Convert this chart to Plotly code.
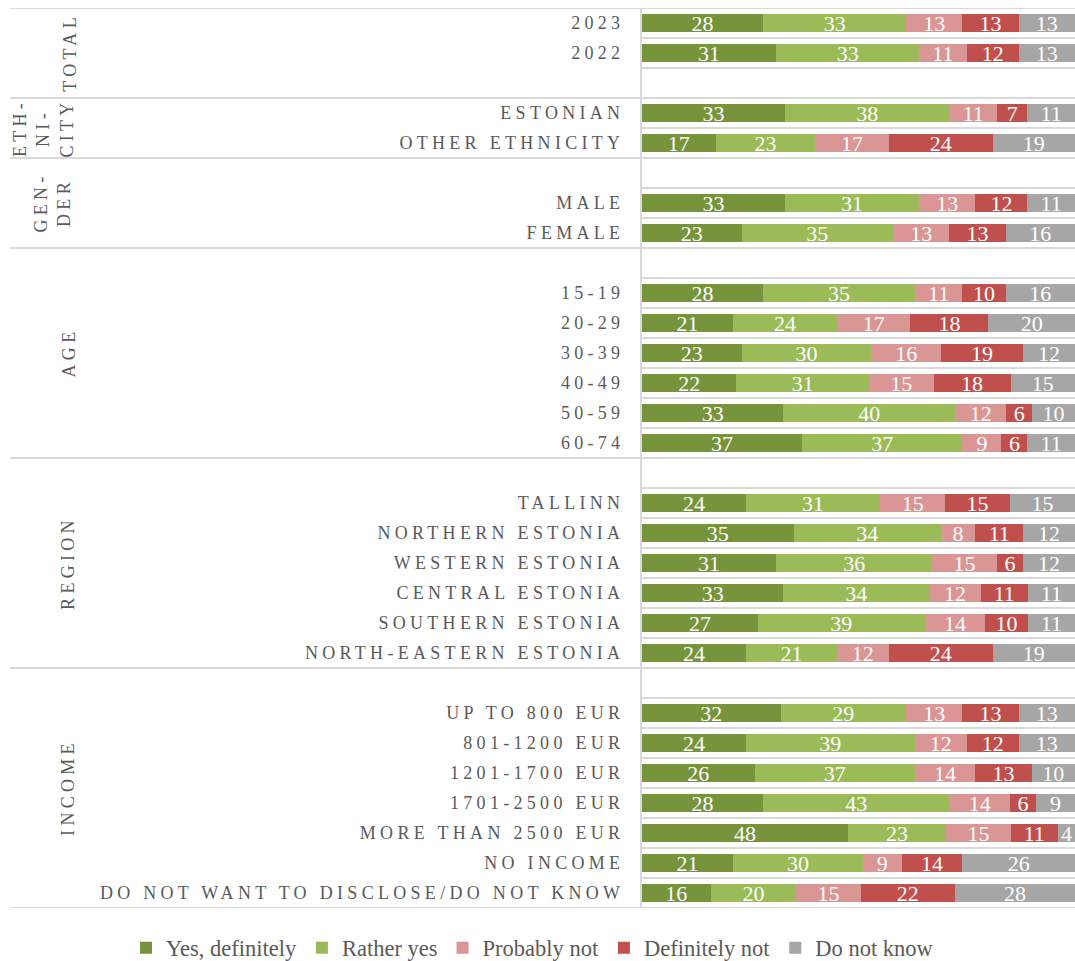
import plotly.graph_objects as go

# ---------------- data ----------------
series = ["Yes, definitely", "Rather yes", "Probably not", "Definitely not", "Do not know"]
colors = ["#77933C", "#9BBB59", "#DA9694", "#C0504D", "#A6A6A6"]

groups = ["TOTAL", "ETH-<br>NI-<br>CITY", "GEN-<br>DER", "AGE", "REGION", "INCOME"]
group_categories = [
    ["2023", "2022"],
    ["ESTONIAN", "OTHER ETHNICITY"],
    ["MALE", "FEMALE"],
    ["15-19", "20-29", "30-39", "40-49", "50-59", "60-74"],
    ["TALLINN", "NORTHERN ESTONIA", "WESTERN ESTONIA", "CENTRAL ESTONIA",
     "SOUTHERN ESTONIA", "NORTH-EASTERN ESTONIA"],
    ["UP TO 800 EUR", "801-1200 EUR", "1201-1700 EUR", "1701-2500 EUR",
     "MORE THAN 2500 EUR", "NO INCOME", "DO NOT WANT TO DISCLOSE/DO NOT KNOW"],
]
# blank spacer row: after first group, before the others
spacer_before = [False, False, True, True, True, True]
spacer_after = [True, False, False, False, False, False]

yes_definitely = [28, 31, 33, 17, 33, 23, 28, 21, 23, 22, 33, 37,
                  24, 35, 31, 33, 27, 24, 32, 24, 26, 28, 48, 21, 16]
rather_yes = [33, 33, 38, 23, 31, 35, 35, 24, 30, 31, 40, 37,
              31, 34, 36, 34, 39, 21, 29, 39, 37, 43, 23, 30, 20]
probably_not = [13, 11, 11, 17, 13, 13, 11, 17, 16, 15, 12, 9,
                15, 8, 15, 12, 14, 12, 13, 12, 14, 14, 15, 9, 15]
definitely_not = [13, 12, 7, 24, 12, 13, 10, 18, 19, 18, 6, 6,
                  15, 11, 6, 11, 10, 24, 13, 12, 13, 6, 11, 14, 22]
do_not_know = [13, 13, 11, 19, 11, 16, 16, 20, 12, 15, 10, 11,
               15, 12, 12, 11, 11, 19, 13, 13, 10, 9, 4, 26, 28]
values = [yes_definitely, rather_yes, probably_not, definitely_not, do_not_know]

# ---------------- row layout ----------------
cat_pos = []
tick_vals, tick_text = [], []
group_bounds = []
row = 0
for g, cats in enumerate(group_categories):
    start = row
    if spacer_before[g]:
        row += 1
    for c in cats:
        cat_pos.append(row)
        tick_vals.append(row)
        tick_text.append(c)
        row += 1
    if spacer_after[g]:
        row += 1
    group_bounds.append((start - 0.5, row - 0.5))
n_rows = row

W, H = 1075, 961
L, R, T, B = 642, 0, 8, 53
pw = W - L - R
ph = H - T - B


def px_to_paper(px):
    return (px - L) / pw


def py_to_paper(py):
    return (H - B - py) / ph


fig = go.Figure()
for name, col, vals in zip(series, colors, values):
    fig.add_trace(go.Bar(
        name=name, orientation="h", x=vals, y=cat_pos,
        marker=dict(color=col, line=dict(width=0)),
        text=[str(v) for v in vals], textposition="inside", textangle=0,
        insidetextanchor="middle", constraintext="none",
        textfont=dict(family="Liberation Serif", size=22, color="white"),
        cliponaxis=False, hoverinfo="x+y+name",
    ))

shapes = []
for (y0, y1) in group_bounds:
    for yy in (y0, y1):
        shapes.append(dict(type="line", xref="paper", yref="y",
                           x0=px_to_paper(10), x1=1, y0=yy, y1=yy,
                           line=dict(color="#D9D9D9", width=2), layer="above"))

annotations = []
label_x = [70, 43, 52, 69, 68, 68]
for g, text in enumerate(groups):
    y0, y1 = group_bounds[g]
    annotations.append(dict(
        text=text, xref="paper", yref="y", x=px_to_paper(label_x[g]),
        y=(y0 + y1) / 2, textangle=-90, showarrow=False,
        xanchor="center", yanchor="middle", align="center",
        font=dict(family="Liberation Serif", size=18, color="#595959"),
    ))

fig.update_layout(
    width=W, height=H,
    margin=dict(l=L, r=R, t=T, b=B, pad=0, autoexpand=False),
    plot_bgcolor="white", paper_bgcolor="white",
    barmode="stack", barnorm="percent", bargap=0.43,
    showlegend=True,
    legend=dict(orientation="h", xref="paper", yref="paper",
                x=px_to_paper(126), y=py_to_paper(948), xanchor="left", yanchor="middle",
                font=dict(family="Liberation Serif", size=22.5, color="#595959"),
                itemwidth=30, traceorder="normal", bgcolor="rgba(0,0,0,0)"),
    uniformtext=dict(minsize=22, mode="show"),
    shapes=shapes, annotations=annotations,
    xaxis=dict(range=[0, 100], showgrid=False, showticklabels=False,
               zeroline=False, showline=False, fixedrange=True),
    yaxis=dict(range=[n_rows - 0.5, -0.5], tickvals=tick_vals, ticktext=tick_text,
               showgrid=False, zeroline=False, showline=True, automargin=False,
               linecolor="#D9D9D9", linewidth=2, ticks="", ticklabelstandoff=12,
               tickfont=dict(family="Liberation Serif", size=18, color="#595959"),
               minor=dict(tickvals=[k + 0.5 for k in range(-1, n_rows)], showgrid=True,
                          gridcolor="#D9D9D9", gridwidth=2, ticks=""),
               fixedrange=True),
)

post = """
document.body.style.margin = '0';
document.body.style.overflow = 'hidden';
var gd = document.getElementById('{plot_id}');
function sp(){
  gd.querySelectorAll('.ytick text').forEach(function(t){ t.setAttribute('letter-spacing','4.3px'); });
  gd.querySelectorAll('.annotation-text').forEach(function(t){ t.setAttribute('letter-spacing','4.3px'); });
}
sp();
gd.on('plotly_afterplot', sp);
"""

fig.write_html("out.html", post_script=post, config={"displayModeBar": False})
